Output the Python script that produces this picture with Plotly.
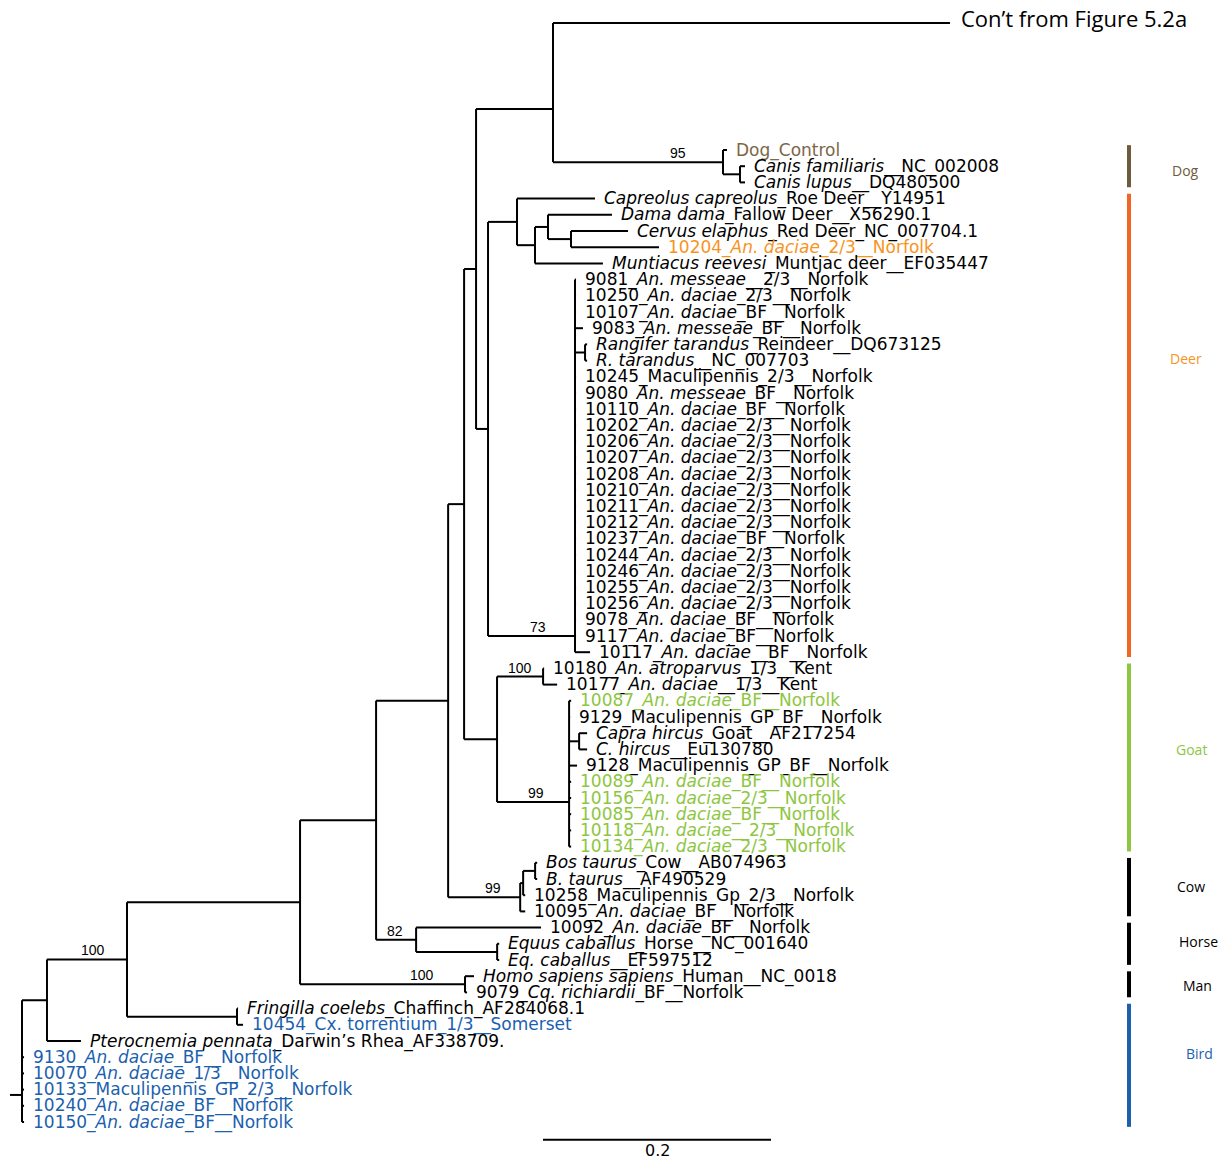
import plotly.graph_objects as go

# ---------------- data ----------------
LEAF_LABELS = [
    "Dog_Control",
    "<i>Canis familiaris</i>__NC_002008",
    "<i>Canis lupus</i>__DQ480500",
    "<i>Capreolus capreolus</i>_Roe Deer__Y14951",
    "<i>Dama dama</i>_Fallow Deer__X56290.1",
    "<i>Cervus elaphus</i>_Red Deer_NC_007704.1",
    "10204_<i>An. daciae</i>_2/3__Norfolk",
    "<i>Muntiacus reevesi</i>_Muntjac deer__EF035447",
    "9081_<i>An. messeae</i>__2/3__Norfolk",
    "10250_<i>An. daciae</i>_2/3__Norfolk",
    "10107_<i>An. daciae</i>_BF__Norfolk",
    "9083_<i>An. messeae</i>_BF__Norfolk",
    "<i>Rangifer tarandus</i>_Reindeer__DQ673125",
    "<i>R. tarandus</i>__NC_007703",
    "10245_Maculipennis_2/3__Norfolk",
    "9080_<i>An. messeae</i>_BF__Norfolk",
    "10110_<i>An. daciae</i>_BF__Norfolk",
    "10202_<i>An. daciae</i>_2/3__Norfolk",
    "10206_<i>An. daciae</i>_2/3__Norfolk",
    "10207_<i>An. daciae</i>_2/3__Norfolk",
    "10208_<i>An. daciae</i>_2/3__Norfolk",
    "10210_<i>An. daciae</i>_2/3__Norfolk",
    "10211_<i>An. daciae</i>_2/3__Norfolk",
    "10212_<i>An. daciae</i>_2/3__Norfolk",
    "10237_<i>An. daciae</i>_BF__Norfolk",
    "10244_<i>An. daciae</i>_2/3__Norfolk",
    "10246_<i>An. daciae</i>_2/3__Norfolk",
    "10255_<i>An. daciae</i>_2/3__Norfolk",
    "10256_<i>An. daciae</i>_2/3__Norfolk",
    "9078_<i>An. daciae</i>_BF__Norfolk",
    "9117_<i>An. daciae</i>_BF__Norfolk",
    "10117_<i>An. daciae</i>__BF__Norfolk",
    "10180_<i>An. atroparvus</i>_1/3__Kent",
    "10177_<i>An. daciae</i>__1/3__Kent",
    "10087_<i>An. daciae</i>_BF__Norfolk",
    "9129_Maculipennis_GP_BF__Norfolk",
    "<i>Capra hircus</i>_Goat__AF217254",
    "<i>C. hircus</i>__Eu130780",
    "9128_Maculipennis_GP_BF__Norfolk",
    "10089_<i>An. daciae</i>_BF__Norfolk",
    "10156_<i>An. daciae</i>_2/3__Norfolk",
    "10085_<i>An. daciae</i>_BF__Norfolk",
    "10118_<i>An. daciae</i>__2/3__Norfolk",
    "10134_<i>An. daciae</i>_2/3__Norfolk",
    "<i>Bos taurus</i>_Cow__AB074963",
    "<i>B. taurus</i>__AF490529",
    "10258_Maculipennis_Gp_2/3__Norfolk",
    "10095_<i>An. daciae</i>_BF__Norfolk",
    "10092_<i>An. daciae</i>_BF__Norfolk",
    "<i>Equus caballus</i>_Horse__NC_001640",
    "<i>Eq. caballus</i>__EF597512",
    "<i>Homo sapiens sapiens</i>_Human__NC_0018",
    "9079_<i>Cq. richiardii</i>_BF__Norfolk",
    "<i>Fringilla coelebs</i>_Chaffinch_AF284068.1",
    "10454_Cx. torrentium_1/3__Somerset",
    "<i>Pterocnemia pennata</i>_Darwin\u2019s Rhea_AF338709.",
    "9130_<i>An. daciae</i>_BF__Norfolk",
    "10070_<i>An. daciae</i>_1/3__Norfolk",
    "10133_Maculipennis_GP_2/3__Norfolk",
    "10240_<i>An. daciae</i>_BF__Norfolk",
    "10150_<i>An. daciae</i>_BF__Norfolk",
]
CONT_LABEL = "Con\u2019t from Figure 5.2a"

# leaf label colour groups
BROWN_LEAVES = [0]
ORANGE_LEAVES = [6]
GREEN_LEAVES = [34, 39, 40, 41, 42, 43]
BLUE_LEAVES = [54, 56, 57, 58, 59, 60]

# clades shown with bars on the right
CLADE_NAMES = ["Dog", "Deer", "Goat", "Cow", "Horse", "Man", "Bird"]
CLADE_FIRST = [0, 3, 32, 44, 48, 51, 53]
CLADE_LAST = [2, 31, 43, 47, 50, 52, 60]
CLADE_LABEL_ROW = [1.25, 12.85, 37.0, 45.45, 48.85, 51.6, 55.8]

SCALE_BAR = 0.2
ROOT_STUB = 0.0105


def leaf(i, bl):
    return {"leaf": i, "bl": bl}


def node(bl, *ch, sup=None, row=None, key=None):
    return {"bl": bl, "ch": list(ch), "sup": sup, "row": row, "key": key}


# tree: branch lengths in substitutions/site
TREE = node(
    0.0,
    node(0.0219,
         node(0.0702,
              node(0.1518,
                   node(0.0667,
                        node(0.0632,
                             node(0.0140,
                                  node(0.0105,
                                       node(0.0675,
                                            leaf("cont", 0.3482),
                                            node(0.1491,
                                                 leaf(0, 0.0035),
                                                 node(0.0149, leaf(1, 0.0044), leaf(2, 0.0044)),
                                                 sup=95, key="dog"),
                                            row=-2.53),
                                       node(0.0105,
                                            node(0.0254,
                                                 leaf(3, 0.0684),
                                                 node(0.0158,
                                                      node(0.0114,
                                                           leaf(4, 0.0561),
                                                           node(0.0202, leaf(5, 0.0500), leaf(6, 0.0772))),
                                                      leaf(7, 0.0596))),
                                            node(0.0763,
                                                 leaf(8, 0.0009), leaf(9, 0.0009), leaf(10, 0.0009),
                                                 leaf(11, 0.0070),
                                                 node(0.0088, leaf(12, 0.0018), leaf(13, 0.0018)),
                                                 *[leaf(i, 0.0009) for i in range(14, 31)],
                                                 leaf(31, 0.0132),
                                                 sup=73, row=30.0, key="deer"))),
                                  node(0.0289,
                                       node(0.0404, leaf(32, 0.0009), leaf(33, 0.0123),
                                            sup=100, key="kent"),
                                       node(0.0632,
                                            leaf(34, 0.0018), leaf(35, 0.0009),
                                            node(0.0088, leaf(36, 0.0070), leaf(37, 0.0070)),
                                            leaf(38, 0.0070),
                                            *[leaf(i, 0.0018) for i in range(39, 44)],
                                            sup=99, row=40.25, key="goat"))),
                             node(0.0632,
                                  node(0.0026,
                                       node(0.0105, leaf(44, 0.0018), leaf(45, 0.0018)),
                                       leaf(46, 0.0018)),
                                  leaf(47, 0.0044),
                                  sup=99, key="cow")),
                        node(0.0351,
                             leaf(48, 0.1096),
                             node(0.0711, leaf(49, 0.0018), leaf(50, 0.0018)),
                             sup=82, key="horse")),
                   node(0.1447, leaf(51, 0.0079), leaf(52, 0.0018), sup=100, key="man")),
              node(0.0965, leaf(53, 0.0009), leaf(54, 0.0053)),
              sup=100, key="bird"),
         leaf(55, 0.0298)),
    *[leaf(i, 0.0018) for i in range(56, 61)],
    row=58.33,
)
CONT_ROW = -7.84

# ---------------- styling / layout constants ----------------
W, H = 1230, 1159
PX_PER_UNIT = 1140.0       # 0.2 subs/site = 228 px
ROOT_PX = 22.0             # px of the root node
ROW0_PX = 150.0            # px of the first leaf row
ROW_PX = 16.2

X_RANGE = [-ROOT_PX / PX_PER_UNIT, (W - ROOT_PX) / PX_PER_UNIT]
Y_RANGE = [(H - ROW0_PX) / ROW_PX, -ROW0_PX / ROW_PX]

BROWN = "#6e5a3c"
BROWN_TXT = "#7d6646"
ORANGE_BAR = "#f26522"
ORANGE_TXT = "#f7941d"
GREEN = "#8dc63f"
BLUE = "#1c5fae"

CLADE_BAR_COLORS = [BROWN, ORANGE_BAR, GREEN, "black", "black", "black", BLUE]
CLADE_TXT_COLORS = [BROWN, ORANGE_TXT, GREEN, "black", "black", "black", BLUE]
CLADE_LABEL_PX = [1185, 1186, 1191, 1191, 1198, 1197, 1199]
BAR_PX = 1129
SCALE_BAR_PX = 543
SCALE_BAR_ROW = 61.1

SUPPORT_DX = {"dog": -45, "deer": -37, "kent": -23, "goat": -33,
              "cow": -27, "horse": -21, "man": -43, "bird": -34}

LABEL_FONT = "DejaVu Sans"
LABEL_SIZE = 17


def px_to_x(px):
    return (px - ROOT_PX) / PX_PER_UNIT


# ---------------- layout of tree ----------------
def assign(n, depth):
    n["x"] = depth + n["bl"]
    if "leaf" in n:
        n["y"] = CONT_ROW if n["leaf"] == "cont" else float(n["leaf"])
        return
    for c in n["ch"]:
        assign(c, n["x"])
    ys = [c["y"] for c in n["ch"]]
    n["y"] = n["row"] if n.get("row") is not None else (ys[0] + ys[-1]) / 2.0


assign(TREE, 0.0)

seg_x, seg_y = [], []
leaf_pos = {}
supports = []


def walk(n):
    if "leaf" in n:
        leaf_pos[n["leaf"]] = (n["x"], n["y"])
        return
    ys = [c["y"] for c in n["ch"]]
    seg_x.extend([n["x"], n["x"], None])
    seg_y.extend([min(ys + [n["y"]]), max(ys + [n["y"]]), None])
    for c in n["ch"]:
        seg_x.extend([n["x"], c["x"], None])
        seg_y.extend([c["y"], c["y"], None])
        if "ch" in c and c.get("sup") is not None:
            supports.append((c["sup"], c["x"], c["y"], c["key"]))
        walk(c)


walk(TREE)
# root stub
seg_x.extend([-ROOT_STUB, 0.0, None])
seg_y.extend([TREE["y"], TREE["y"], None])

fig = go.Figure()
fig.add_trace(go.Scatter(x=seg_x, y=seg_y, mode="lines",
                         line=dict(color="black", width=2), hoverinfo="skip",
                         showlegend=False))

# clade bars
for name, f, l, col in zip(CLADE_NAMES, CLADE_FIRST, CLADE_LAST, CLADE_BAR_COLORS):
    fig.add_trace(go.Scatter(x=[px_to_x(BAR_PX)] * 2, y=[f - 0.3, l + 0.3],
                             mode="lines", line=dict(color=col, width=4),
                             hoverinfo="skip", showlegend=False))

# scale bar
sb_x0 = px_to_x(SCALE_BAR_PX)
fig.add_trace(go.Scatter(x=[sb_x0, sb_x0 + SCALE_BAR], y=[SCALE_BAR_ROW] * 2, mode="lines",
                         line=dict(color="black", width=2), hoverinfo="skip",
                         showlegend=False))

annotations = []


def leaf_color(i):
    if i in BROWN_LEAVES:
        return BROWN_TXT
    if i in ORANGE_LEAVES:
        return ORANGE_TXT
    if i in GREEN_LEAVES:
        return GREEN
    if i in BLUE_LEAVES:
        return BLUE
    return "black"


for i, lab in enumerate(LEAF_LABELS):
    x, y = leaf_pos[i]
    annotations.append(dict(x=x, y=y, text=lab, xanchor="left", yanchor="middle",
                            xshift=7, showarrow=False,
                            font=dict(family=LABEL_FONT, size=LABEL_SIZE, color=leaf_color(i))))

cx, cy = leaf_pos["cont"]
annotations.append(dict(x=cx, y=cy, text=CONT_LABEL, xanchor="left", yanchor="middle",
                        xshift=9, yshift=5, showarrow=False,
                        font=dict(family="Open Sans", size=22, color="black")))

for val, x, y, key in supports:
    annotations.append(dict(x=x, y=y, text=str(val), xanchor="center", yanchor="bottom",
                            xshift=SUPPORT_DX[key], yshift=-1, showarrow=False,
                            font=dict(family="Liberation Sans", size=14, color="black")))

for name, row, px, col in zip(CLADE_NAMES, CLADE_LABEL_ROW, CLADE_LABEL_PX, CLADE_TXT_COLORS):
    annotations.append(dict(x=px_to_x(px), y=row, text=name, xanchor="center",
                            yanchor="middle", showarrow=False,
                            font=dict(family="Open Sans", size=14, color=col)))

annotations.append(dict(x=sb_x0 + SCALE_BAR / 2, y=SCALE_BAR_ROW, text=str(SCALE_BAR),
                        xanchor="center", yanchor="top", yshift=1, showarrow=False,
                        font=dict(family=LABEL_FONT, size=16, color="black")))

fig.update_layout(
    width=W, height=H,
    margin=dict(l=0, r=0, t=0, b=0),
    paper_bgcolor="white", plot_bgcolor="white",
    xaxis=dict(range=X_RANGE, visible=False, fixedrange=True),
    yaxis=dict(range=Y_RANGE, visible=False, fixedrange=True),
    annotations=annotations,
    showlegend=False,
    hovermode=False,
)

# place the figure at the page origin (no default body margin), no mode bar
fig.write_html("out.html", config={"displayModeBar": False},
               post_script="document.body.style.margin='0px';")
